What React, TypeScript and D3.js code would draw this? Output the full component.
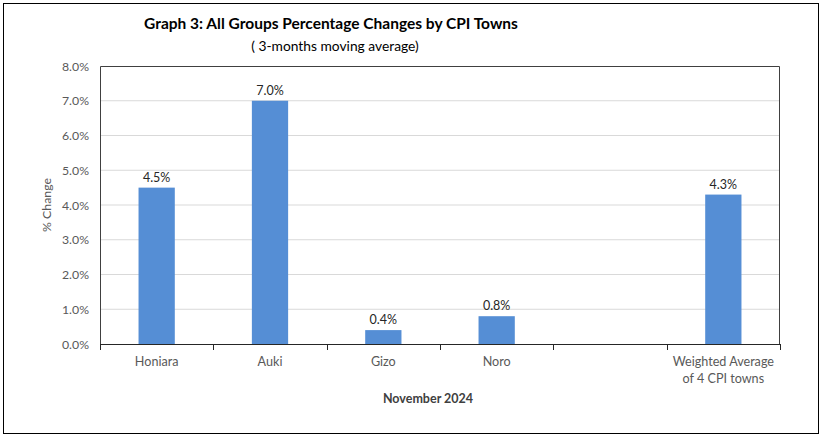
import React from "react";
import * as d3 from "d3";

const categories = ["Honiara", "Auki", "Gizo", "Noro", "", "Weighted Average|of 4 CPI towns"];
const values: (number | null)[] = [4.5, 7.0, 0.4, 0.8, null, 4.3];
const yTicks = [0, 1, 2, 3, 4, 5, 6, 7, 8];

const W = 823;
const H = 438;
const M = { left: 100, right: 780, top: 66, bottom: 344 };
const FONT = "Lato, 'Open Sans', sans-serif";

export default function App() {
  const x = d3.scaleBand<number>().domain(d3.range(categories.length)).range([M.left, M.right]).paddingInner(0.68).paddingOuter(0.34);
  const band = d3.scaleBand<number>().domain(d3.range(categories.length)).range([M.left, M.right]);
  const y = d3.scaleLinear().domain([0, 8]).range([M.bottom, M.top]);
  const bw = x.bandwidth();
  return (
    <svg width={W} height={H} style={{ position: "absolute", left: 0, top: 0, background: "#fff" }} fontFamily={FONT}>
      <rect x={3.5} y={3.5} width={815} height={430} fill="#fff" stroke="#000" strokeWidth={1} />
      <text x={331} y={29} textAnchor="middle" fontSize={15.5} fontWeight="bold" fill="#000">
        Graph 3: All Groups Percentage Changes by CPI Towns
      </text>
      <text x={335} y={51} textAnchor="middle" fontSize={13.8} fill="#000">
        ( 3-months moving average)
      </text>
      {yTicks.map((t) => (
        <g key={t}>
          {t > 0 && t < 8 && (
            <line x1={M.left} x2={M.right} y1={y(t)} y2={y(t)} stroke="#d9d9d9" strokeWidth={1} />
          )}
          <text x={89} y={y(t) + 4.5} textAnchor="end" fontSize={12.3} fill="#595959">
            {d3.format(".1f")(t) + "%"}
          </text>
        </g>
      ))}
      {values.map((v, i) =>
        v == null ? null : (
          <g key={i}>
            <rect x={x(i)!} y={y(v)} width={bw} height={y(0) - y(v)} fill="#558ed5" />
            <text x={x(i)! + bw / 2} y={y(v) - 6} textAnchor="middle" fontSize={12.5} fill="#262626">
              {d3.format(".1f")(v) + "%"}
            </text>
          </g>
        )
      )}
      <path
        d={`M${M.left + 0.5},${M.bottom}V${M.top + 0.5}H${M.right - 0.5}V${M.bottom}`}
        fill="none"
        stroke="#404040"
        strokeWidth={1}
      />
      <line x1={M.left} x2={M.right} y1={M.bottom + 0.5} y2={M.bottom + 0.5} stroke="#262626" strokeWidth={1} />
      {d3.range(categories.length + 1).map((i) => {
        const xx = Math.round(M.left + i * band.bandwidth()) + 0.5;
        return <line key={i} x1={xx} x2={xx} y1={M.bottom} y2={M.bottom + 6} stroke="#262626" strokeWidth={1} />;
      })}
      {categories.map((c, i) => {
        const cx = band(i)! + band.bandwidth() / 2;
        return c.split("|").map((line, j) => (
          <text key={i + "-" + j} x={cx} y={366 + j * 17} textAnchor="middle" fontSize={12.6} fill="#595959">
            {line}
          </text>
        ));
      })}
      <text x={428} y={403} textAnchor="middle" fontSize={12.5} fontWeight="bold" fill="#404040">
        November 2024
      </text>
      <text transform={`translate(51,205) rotate(-90)`} textAnchor="middle" fontSize={12.3} fill="#595959">
        % Change
      </text>
    </svg>
  );
}
